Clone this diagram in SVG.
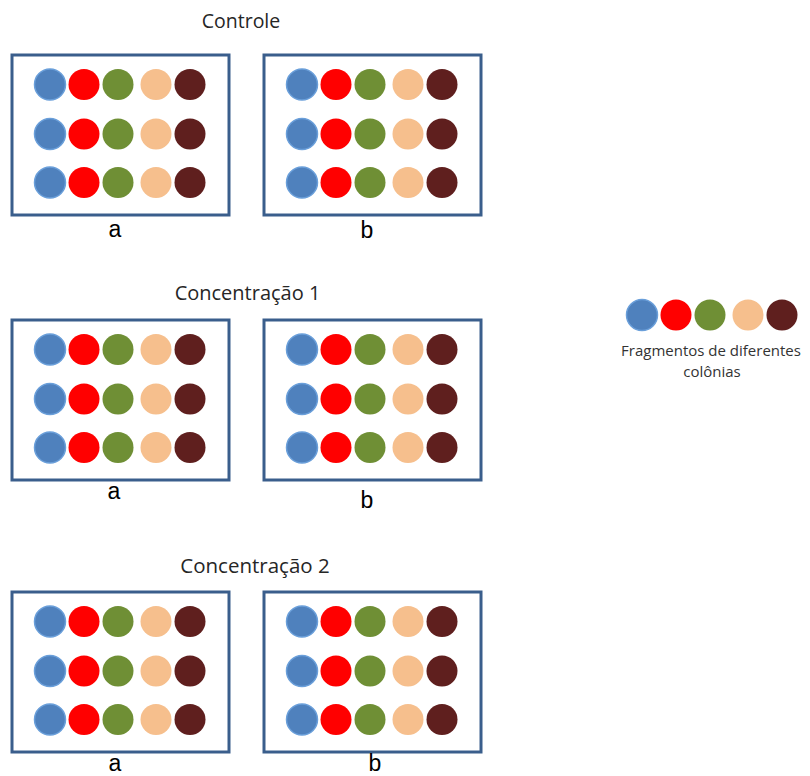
<svg xmlns="http://www.w3.org/2000/svg" xmlns:xlink="http://www.w3.org/1999/xlink" width="810" height="776" viewBox="0 0 810 776">
<style>
  .box { fill: #ffffff; stroke: #3a5e8c; stroke-width: 3; }
  .title { font-family: "Open Sans", "Liberation Sans", sans-serif; fill: #262626; text-anchor: middle; }
  .lbl { font-family: "Liberation Sans", Arial, sans-serif; font-size: 23px; fill: #000000; text-anchor: middle; }
  .legend { font-family: "Open Sans", "Liberation Sans", sans-serif; font-size: 15px; fill: #333333; text-anchor: middle; }
  .c1 { fill: #4f81bd; stroke: #6a9fda; stroke-width: 1.5; }
  .c2 { fill: #ff0000; }
  .c3 { fill: #6f8f35; }
  .c4 { fill: #f6bf8d; }
  .c5 { fill: #5f1f1e; }
</style>
<defs>
  <g id="row">
    <circle class="c1" cx="0" cy="0" r="15.5"/>
    <circle class="c2" cx="34" cy="0" r="15.5"/>
    <circle class="c3" cx="68" cy="0" r="15.5"/>
    <circle class="c4" cx="106" cy="0" r="15.5"/>
    <circle class="c5" cx="140" cy="0" r="15.5"/>
  </g>
  <g id="dots">
    <use xlink:href="#row" href="#row" x="38" y="29.5"/>
    <use xlink:href="#row" href="#row" x="38" y="79"/>
    <use xlink:href="#row" href="#row" x="38" y="127.5"/>
  </g>
</defs>
<rect width="810" height="776" fill="#ffffff"/>

<g id="controle">
  <text class="title" x="241" y="28" font-size="19.5">Controle</text>
  <g id="controle-a">
    <rect class="box" x="12" y="55" width="217" height="160"/>
    <use xlink:href="#dots" href="#dots" x="12" y="55"/>
    <text class="lbl" x="115" y="237">a</text>
  </g>
  <g id="controle-b">
    <rect class="box" x="264" y="55" width="217" height="160"/>
    <use xlink:href="#dots" href="#dots" x="264" y="55"/>
    <text class="lbl" x="367" y="238">b</text>
  </g>
</g>

<g id="concentracao1">
  <text class="title" x="247.5" y="300" font-size="20">Concentração 1</text>
  <g id="conc1-a">
    <rect class="box" x="12" y="320" width="217" height="160"/>
    <use xlink:href="#dots" href="#dots" x="12" y="320"/>
    <text class="lbl" x="114" y="499">a</text>
  </g>
  <g id="conc1-b">
    <rect class="box" x="264" y="320" width="217" height="160"/>
    <use xlink:href="#dots" href="#dots" x="264" y="320"/>
    <text class="lbl" x="367" y="508">b</text>
  </g>
</g>

<g id="concentracao2">
  <text class="title" x="255" y="573" font-size="20.5">Concentração 2</text>
  <g id="conc2-a">
    <rect class="box" x="12" y="592" width="217" height="160"/>
    <use xlink:href="#dots" href="#dots" x="12" y="592"/>
    <text class="lbl" x="115" y="771">a</text>
  </g>
  <g id="conc2-b">
    <rect class="box" x="264" y="592" width="217" height="160"/>
    <use xlink:href="#dots" href="#dots" x="264" y="592"/>
    <text class="lbl" x="375" y="771">b</text>
  </g>
</g>

<g id="legenda">
  <use xlink:href="#row" href="#row" x="642" y="315"/>
  <text class="legend" x="711" y="356">Fragmentos de diferentes</text>
  <text class="legend" x="712" y="377">colônias</text>
</g>

<g id="connectors"/>
</svg>
